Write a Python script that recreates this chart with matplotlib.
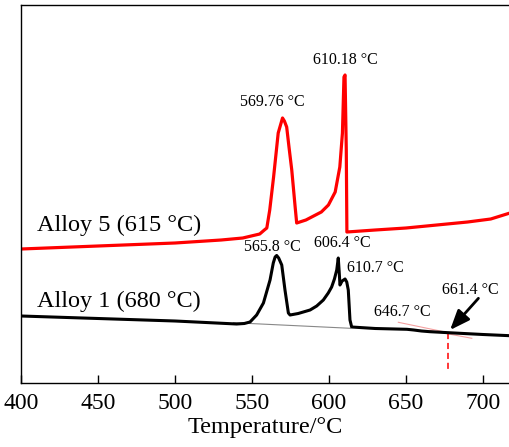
import matplotlib
matplotlib.use('Agg')
import matplotlib.pyplot as plt

plt.rcParams['font.family'] = ['Liberation Serif', 'DejaVu Serif']

# Alloy 5 DSC curve (temperature in °C, heat flow in arbitrary units)
t_alloy5 = [400, 450, 500, 530, 544, 555, 558, 559.6, 561.5, 564, 567, 569.8, 571,
            572.5, 574, 575.8, 578, 579, 585, 590, 595, 599.6, 604, 607, 608.7,
            609.7, 610.4, 611.2, 611.6, 630, 650, 670, 690, 705, 717.5]
h_alloy5 = [134, 137, 140, 143, 145, 149, 153, 155, 173, 206, 250, 265, 262,
            256, 236, 213, 176, 160, 163, 167, 171, 178, 191, 216, 250,
            306, 308, 233, 151, 153, 155, 158, 161, 164, 170]

# Alloy 1 DSC curve
t_alloy1 = [400, 450, 500, 520, 540, 545, 548.7, 553, 557.4, 561.7, 563.8, 565, 566,
            567.3, 569.3, 571.4, 573.6, 574.7, 580, 587.7, 592, 596.3, 599.5, 601.7,
            603.5, 605, 606, 606.6, 607.1, 608.5, 610.4, 611.5, 612.5, 613.6, 614.7,
            630, 650.6, 655, 660, 665.6, 677.5, 700, 717.5]
h_alloy1 = [67, 64.5, 62, 60.5, 59, 59.5, 61, 68, 80, 103, 120, 126, 127.5,
            125, 118, 93, 70, 68, 69.5, 73, 77, 83, 90, 96,
            104, 113, 125, 111, 98, 102, 104, 101, 93, 63, 56,
            54.5, 53.7, 53, 52, 51.3, 50.3, 48.5, 47.3]

# construction lines
base_t = [537.9, 614]
base_h = [60.3, 54.7]
tan1_t = [645, 677.5]
tan1_h = [60.7, 50.3]
tan2_t = [665.6, 692.7]
tan2_h = [52.5, 44.7]
onset_t = 677.5
onset_h = [50.3, 11.3]

peak_labels = [
    ('610.18 °C', 610.4, 323),
    ('569.76 °C', 563.0, 281),
    ('565.8 °C', 563.0, 136),
    ('606.4 °C', 608.3, 140),
    ('610.7 °C', 629.9, 115),
    ('646.7 °C', 647.4, 71),
    ('661.4 °C', 691.6, 93),
]

fig = plt.figure(figsize=(5.10, 4.47), dpi=100)
ax = fig.add_axes([21 / 510, 64 / 447, 489 / 510, 378 / 447])

ax.plot(base_t, base_h, color='#888888', lw=0.8)
ax.plot(tan1_t, tan1_h, color='#f4a0a0', lw=0.8)
ax.plot(tan2_t, tan2_h, color='#f4a0a0', lw=0.8)
ax.plot([onset_t, onset_t], onset_h, color='red', lw=1.1, ls=(0, (4, 2.5)))

ax.plot(t_alloy5, h_alloy5, color='red', lw=2.3)
ax.plot(t_alloy1, h_alloy1, color='black', lw=2.2)

for txt, t, h in peak_labels:
    ax.text(t, h, txt, fontsize=11.5, ha='center', va='center')

# arrow pointing at the onset
ax.annotate('', xy=(678.6, 53), xytext=(697, 84.7),
            arrowprops=dict(arrowstyle='-|>,head_length=1.0,head_width=0.4',
                            color='black', lw=2.0, mutation_scale=12,
                            shrinkA=0, shrinkB=0))

ax.text(410.4, 158, 'Alloy 5 (615 °C)', fontsize=17.5, ha='left', va='center')
ax.text(410.4, 82, 'Alloy 1 (680 °C)', fontsize=17.5, ha='left', va='center')

ax.set_xlim(400, 717.5)
ax.set_ylim(0, 378)
ax.set_xticks([400, 450, 500, 550, 600, 650, 700])
ax.set_yticks([])
ax.tick_params(axis='x', direction='in', length=6, width=1, labelsize=17, pad=7)
ax.spines['right'].set_visible(False)
for s in ['left', 'top', 'bottom']:
    ax.spines[s].set_linewidth(1.0)
ax.set_xlabel('Temperature/°C', fontsize=17.5, labelpad=2)

fig.savefig('out.png', dpi=100)
